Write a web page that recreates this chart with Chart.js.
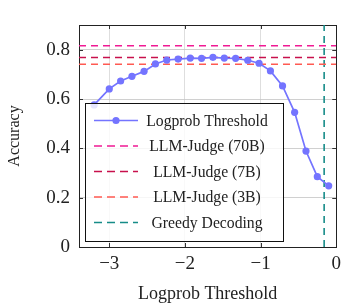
<!DOCTYPE html>
<html><head><meta charset="utf-8">
<script src="https://cdn.jsdelivr.net/npm/chart.js@4"></script>
<style>html,body{margin:0;padding:0;background:#fff}#wrap{width:347px;height:304px}</style>
</head><body><div id="wrap"><canvas id="c" width="347" height="304"></canvas></div>
<script>
// ---- data ----
const thresholds = [-3.20, -3.00, -2.85, -2.70, -2.54, -2.39, -2.24, -2.09, -1.93, -1.78, -1.63, -1.48, -1.33, -1.17, -1.02, -0.87, -0.71, -0.55, -0.40, -0.25, -0.10];
const accuracy   = [0.576, 0.641, 0.673, 0.692, 0.712, 0.742, 0.758, 0.762, 0.766, 0.765, 0.769, 0.766, 0.765, 0.757, 0.745, 0.714, 0.653, 0.546, 0.389, 0.285, 0.248];
const judgeLabels = ['LLM-Judge (70B)', 'LLM-Judge (7B)', 'LLM-Judge (3B)'];
const judgeValues = [0.816, 0.768, 0.741];
const greedyThreshold = -0.16;
const xTicks = [-3, -2, -1, 0];
const yTicks = [0, 0.2, 0.4, 0.6, 0.8];
const xRange = [-3.4, 0];
const yRange = [0, 0.9];

// ---- styles ----
const FONT = "'Liberation Serif', 'Times New Roman', serif";
const lineColor = '#7474ff';
const judgeColors = ['#f01a94', '#c8104c', '#ff5a52'];
const greedyColor = '#168c88';
const dash = [7, 5];

const datasets = [{
  label: 'Logprob Threshold',
  data: thresholds.map((x, i) => ({x, y: accuracy[i]})),
  borderColor: lineColor, backgroundColor: lineColor,
  borderWidth: 1.7, pointRadius: 3.6, pointHoverRadius: 3.6, pointBorderWidth: 0,
  tension: 0
}];
judgeValues.forEach((v, i) => datasets.push({
  label: judgeLabels[i],
  data: [{x: xRange[0], y: v}, {x: xRange[1], y: v}],
  borderColor: judgeColors[i], borderWidth: 1.6, borderDash: dash, pointRadius: 0
}));
datasets.push({
  label: 'Greedy Decoding',
  data: [{x: greedyThreshold, y: yRange[0]}, {x: greedyThreshold, y: yRange[1]}],
  borderColor: greedyColor, borderWidth: 1.6, borderDash: dash, pointRadius: 0
});

const framePlugin = {
  id: 'frame',
  beforeDatasetsDraw(chart) {
    const {ctx, chartArea: a, scales} = chart;
    ctx.save();
    ctx.strokeStyle = '#333'; ctx.lineWidth = 1;
    ctx.beginPath();
    xTicks.forEach(v => {
      const px = Math.round(scales.x.getPixelForValue(v)) + 0.5;
      ctx.moveTo(px, a.bottom); ctx.lineTo(px, a.bottom - 4);
      ctx.moveTo(px, a.top); ctx.lineTo(px, a.top + 4);
    });
    yTicks.forEach(v => {
      const py = Math.round(scales.y.getPixelForValue(v)) + 0.5;
      ctx.moveTo(a.left, py); ctx.lineTo(a.left + 4, py);
      ctx.moveTo(a.right, py); ctx.lineTo(a.right - 4, py);
    });
    ctx.stroke();
    ctx.strokeStyle = '#222';
    ctx.strokeRect(Math.round(a.left) + 0.5, Math.round(a.top) + 0.5, Math.round(a.right - a.left), Math.round(a.bottom - a.top));
    ctx.restore();
  }
};

const legendPlugin = {
  id: 'boxLegend',
  afterDatasetsDraw(chart) {
    const ctx = chart.ctx;
    const bx = 85, by = 103, bw = 198, bh = 138;
    ctx.save();
    ctx.fillStyle = 'rgba(255,255,255,0.82)';
    ctx.fillRect(bx, by, bw, bh);
    ctx.strokeStyle = '#111'; ctx.lineWidth = 1;
    ctx.strokeRect(bx + 0.5, by + 0.5, bw, bh);
    const rowY0 = 120.5, rowStep = 25.5;
    const sx0 = 94, sx1 = 138, textX = 207;
    chart.data.datasets.forEach((ds, i) => {
      const y = rowY0 + i * rowStep;
      ctx.strokeStyle = ds.borderColor;
      ctx.lineWidth = ds.borderWidth;
      ctx.setLineDash(ds.borderDash ? [8, 5] : []);
      ctx.beginPath(); ctx.moveTo(sx0, y); ctx.lineTo(sx1 - (ds.borderDash ? 0 : 0), y); ctx.stroke();
      ctx.setLineDash([]);
      if (ds.pointRadius) {
        ctx.fillStyle = ds.backgroundColor;
        ctx.beginPath(); ctx.arc((sx0 + sx1) / 2, y, ds.pointRadius, 0, Math.PI * 2); ctx.fill();
      }
      ctx.fillStyle = '#222';
      ctx.font = '15.7px ' + FONT;
      ctx.textAlign = 'center'; ctx.textBaseline = 'middle';
      ctx.fillText(ds.label, textX, y + 1);
    });
    ctx.restore();
  }
};

new Chart(document.getElementById('c'), {
  type: 'line',
  data: {datasets},
  plugins: [framePlugin, legendPlugin],
  options: {
    responsive: false, animation: false, devicePixelRatio: 1,
    layout: {padding: {top: 25, right: 7, bottom: 0, left: 0}},
    plugins: {legend: {display: false}, tooltip: {enabled: false}},
    scales: {
      x: {
        type: 'linear', min: xRange[0], max: xRange[1],
        afterBuildTicks: s => { s.ticks = xTicks.map(v => ({value: v})); },
        afterFit: s => { s.height = 57; },
        ticks: {
          callback: v => v < 0 ? '\u2212' + Math.abs(v) : String(v),
          font: {family: FONT, size: 19}, color: '#222', padding: 6, maxRotation: 0, autoSkip: false
        },
        grid: {color: '#d6d6d6', lineWidth: 0.8, drawTicks: false},
        border: {display: false},
        title: {display: true, text: 'Logprob Threshold', font: {family: FONT, size: 18, lineHeight: 1}, color: '#222', padding: {top: 0, bottom: 1}}
      },
      y: {
        type: 'linear', min: yRange[0], max: yRange[1],
        afterBuildTicks: s => { s.ticks = yTicks.map(v => ({value: v})); },
        afterFit: s => { s.width = 79; },
        ticks: {
          callback: v => v === 0 ? '0' : v.toFixed(1),
          font: {family: FONT, size: 19}, color: '#222', padding: 9, autoSkip: false
        },
        grid: {color: '#c4c4c4', lineWidth: 0.8, drawTicks: false},
        border: {display: false},
        title: {display: true, text: 'Accuracy', font: {family: FONT, size: 16, lineHeight: 1}, color: '#222', padding: {top: 7, bottom: 0}}
      }
    }
  }
});
</script>
</body></html>
